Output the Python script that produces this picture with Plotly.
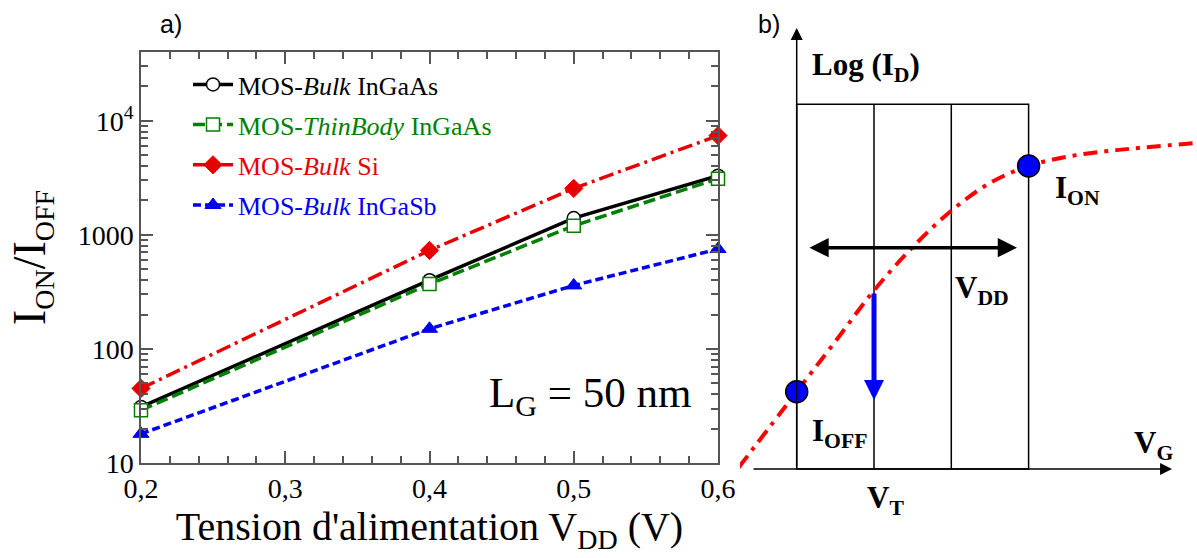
import plotly.graph_objects as go

# ---------------- Panel a data ----------------
vdd = [0.2, 0.4, 0.5, 0.6]
bulk_ingaas = [31, 400, 1400, 3300]
thinbody_ingaas = [29, 370, 1200, 3100]
bulk_si = [45, 730, 2550, 7400]
bulk_ingasb = [18, 150, 360, 750]

series_names = [
    "MOS-<i>Bulk</i> InGaAs",
    "MOS-<i>ThinBody</i> InGaAs",
    "MOS-<i>Bulk</i> Si",
    "MOS-<i>Bulk</i> InGaSb",
]

x_tick_vals = [0.2, 0.3, 0.4, 0.5, 0.6]
x_tick_labels = ["0,2", "0,3", "0,4", "0,5", "0,6"]
y_tick_vals = [10, 100, 1000, 10000]
y_tick_labels = ["10", "100", "1000", "10<sup>4</sup>"]

# ---------------- Panel b schematic data ----------------
vg_curve = [-0.75, 0.0, 0.5, 1.0, 1.5, 2.0, 2.5, 3.0, 3.5, 4.0, 4.5, 5.2]
logid_curve = [0.02, 1.0, 1.65, 2.31, 2.87, 3.34, 3.70, 3.92, 4.04, 4.11, 4.16, 4.22]
op_vg = [0.0, 3.0]
op_logid = [1.0, 3.92]
vg_grid = [0, 1, 2, 3]
box_top = 4.72

SERIF = "Liberation Serif"
SANS = "Liberation Sans"

fig = go.Figure()

styles = [
    dict(color="#000000", dash="solid"),
    dict(color="#008000", dash="12px,5px"),
    dict(color="#e60000", dash="15px,5px,3px,5px"),
    dict(color="#0000ee", dash="8px,4px"),
]
markers = [
    dict(size=13, symbol="circle", color="white", line=dict(color="#000000", width=1.5)),
    dict(size=13, symbol="square", color="white", line=dict(color="#008000", width=1.5)),
    dict(size=14, symbol="diamond", color="#e60000", line=dict(color="#e60000", width=1)),
    dict(size=14, symbol="triangle-up", color="#0000ee", line=dict(color="#0000ee", width=1)),
]
series = [bulk_ingaas, thinbody_ingaas, bulk_si, bulk_ingasb]

for i, (vals, name, st, mk) in enumerate(zip(series, series_names, styles, markers)):
    fig.add_trace(go.Scatter(
        x=vdd, y=vals, mode="lines+markers",
        name=f'<span style="color:{st["color"]}">{name}</span>',
        line=dict(color=st["color"], width=3.5, dash=st["dash"]),
        marker=mk,
        cliponaxis=False,
        legendgroup=f"g{i}",
        xaxis="x", yaxis="y",
    ))

# Panel b curve and operating points
fig.add_trace(go.Scatter(
    x=vg_curve, y=logid_curve, mode="lines",
    line=dict(color="#ff0000", width=4, dash="14px,7px,4px,7px", shape="spline"),
    showlegend=False, xaxis="x2", yaxis="y2", hoverinfo="skip",
))
fig.add_trace(go.Scatter(
    x=op_vg, y=op_logid, mode="markers",
    marker=dict(size=22, color="#0000ff", line=dict(color="#000000", width=1.5)),
    showlegend=False, xaxis="x2", yaxis="y2", cliponaxis=False,
))

W, H = 1197, 558
px = lambda v: v / W
py = lambda v: 1 - v / H

tickfont = dict(family=SERIF, size=28, color="#000000")

fig.update_layout(
    width=W, height=H,
    margin=dict(l=0, r=0, t=0, b=0, autoexpand=False),
    paper_bgcolor="white", plot_bgcolor="white",
    showlegend=True,
    legend=dict(
        x=px(188), y=py(61), xanchor="left", yanchor="top",
        bgcolor="rgba(0,0,0,0)", borderwidth=0,
        font=dict(family=SERIF, size=26, color="#000000"),
        tracegroupgap=3.4, itemwidth=40,
    ),
    xaxis=dict(
        domain=[px(141), px(718)], range=[0.2, 0.6], automargin=False,
        tickvals=x_tick_vals, ticktext=x_tick_labels,
        ticks="inside", ticklen=12, tickwidth=1.5, tickcolor="#555555",
        minor=dict(dtick=0.02, ticks="inside", ticklen=7, tickwidth=1.5, tickcolor="#555555"),
        showline=True, linecolor="#555555", linewidth=1.5, mirror="ticks",
        showgrid=False, zeroline=False, tickfont=tickfont,
        title=dict(text="Tension d'alimentation V<sub>DD</sub> (V)",
                   font=dict(family=SERIF, size=40, color="#000000"), standoff=4),
        anchor="y",
    ),
    yaxis=dict(
        domain=[py(463), py(52)], type="log", range=[1, 4.602], automargin=False,
        tickvals=y_tick_vals, ticktext=y_tick_labels,
        ticks="inside", ticklen=12, tickwidth=1.5, tickcolor="#555555",
        minor=dict(dtick="D1", ticks="inside", ticklen=7, tickwidth=1.5, tickcolor="#555555"),
        showline=True, linecolor="#555555", linewidth=1.5, mirror="ticks",
        showgrid=False, zeroline=False, tickfont=tickfont,
        title=dict(text="I<sub><span style='font-size:28px'>ON</span></sub>/I<sub><span style='font-size:28px'>OFF</span></sub>",
                   font=dict(family=SERIF, size=46, color="#000000"), standoff=18),
        anchor="x",
    ),
    xaxis2=dict(domain=[px(740), 1.0], range=[-0.7335, 5.1786], visible=False, anchor="y2", automargin=False),
    yaxis2=dict(domain=[0, 1], range=[-1.1514, 6.0673], visible=False, anchor="x2", automargin=False),
)

# Panel b box and grid lines
shapes = [dict(type="rect", xref="x2", yref="y2", x0=vg_grid[0], x1=vg_grid[-1], y0=0, y1=box_top,
               line=dict(color="#000000", width=1.5), layer="below")]
for g in vg_grid[1:-1]:
    shapes.append(dict(type="line", xref="x2", yref="y2", x0=g, x1=g, y0=0, y1=box_top,
                       line=dict(color="#000000", width=1.5), layer="below"))
fig.update_layout(shapes=shapes)

ann = []
# panel labels
ann.append(dict(text="a)", x=px(171), y=py(24), xref="paper", yref="paper", showarrow=False,
                xanchor="center", yanchor="middle", font=dict(family=SANS, size=25, color="#000000")))
ann.append(dict(text="b)", x=px(769), y=py(24), xref="paper", yref="paper", showarrow=False,
                xanchor="center", yanchor="middle", font=dict(family=SANS, size=25, color="#000000")))
# LG annotation
ann.append(dict(text="L<sub>G</sub> = 50 nm", x=0.9567, y=0.163, xref="x domain", yref="y domain",
                xanchor="right", yanchor="middle", showarrow=False,
                font=dict(family=SERIF, size=43, color="#000000")))

bfont = dict(family=SERIF, size=31, color="#000000")
# axes arrows (panel b)
ann.append(dict(x=0, y=5.705, ax=0, ay=0, xref="x2", yref="y2", axref="x2", ayref="y2",
                showarrow=True, arrowhead=2, arrowsize=1.6, arrowwidth=1.5, arrowcolor="#000000", text=""))
ann.append(dict(x=4.856, y=0, ax=-0.578, ay=0, xref="x2", yref="y2", axref="x2", ayref="y2",
                showarrow=True, arrowhead=2, arrowsize=1.6, arrowwidth=1.5, arrowcolor="#000000", text=""))
# VDD double arrow
ann.append(dict(x=2.85, y=2.863, ax=0.145, ay=2.863, xref="x2", yref="y2", axref="x2", ayref="y2",
                showarrow=True, arrowhead=2, startarrowhead=2, arrowside="end+start",
                arrowsize=1.1, startarrowsize=1.1, arrowwidth=3.5, arrowcolor="#000000", text=""))
# VT blue arrow
ann.append(dict(x=1.0, y=0.893, ax=1.0, ay=2.29, xref="x2", yref="y2", axref="x2", ayref="y2",
                showarrow=True, arrowhead=2, arrowsize=0.8, arrowwidth=5, arrowcolor="#0000ff", text=""))

# panel b texts
for txt, x, y in [
    ("<b>Log (I<sub>D</sub>)</b>", 0.17, 5.20),
    ("<b>I<sub>ON</sub></b>", 3.32, 3.61),
    ("<b>I<sub>OFF</sub></b>", 0.17, 0.466),
    ("<b>V<sub>DD</sub></b>", 2.02, 2.316),
    ("<b>V<sub>T</sub></b>", 0.88, -0.40),
    ("<b>V<sub>G</sub></b>", 4.34, 0.31),
]:
    ann.append(dict(text=txt, x=x, y=y, xref="x2", yref="y2", xanchor="left", yanchor="middle",
                    showarrow=False, font=bfont))

fig.update_layout(annotations=ann)

fig.write_html("out.html", config={"displayModeBar": False},
               post_script="document.body.style.margin='0px';")
